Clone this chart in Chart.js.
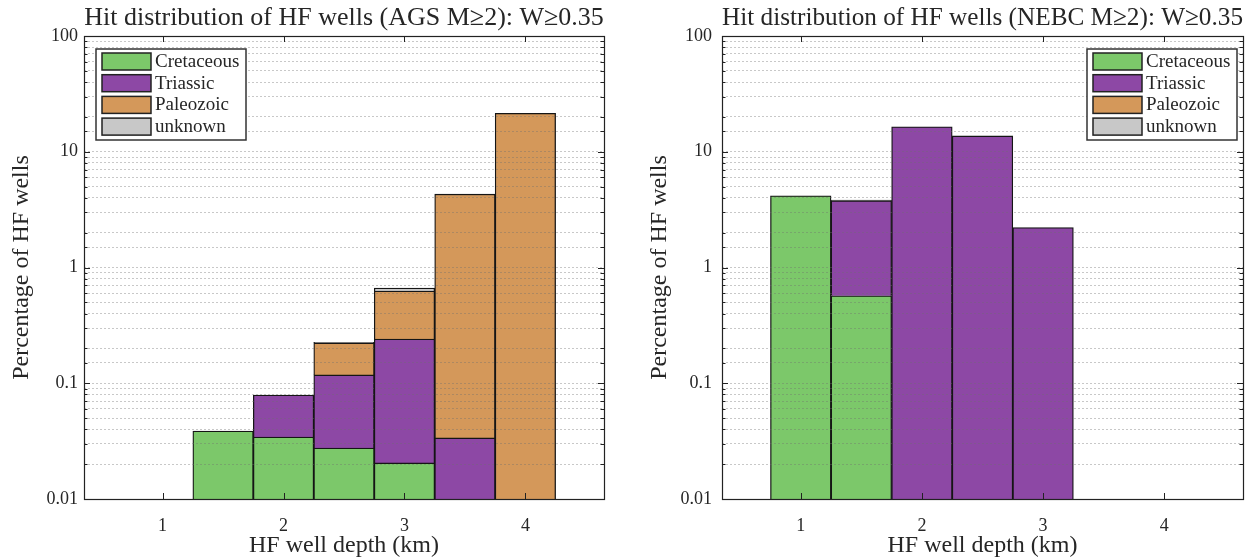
<!DOCTYPE html>
<html><head><meta charset="utf-8">
<script src="https://cdn.jsdelivr.net/npm/chart.js@4.4.1/dist/chart.umd.min.js"></script>
<style>
html,body{margin:0;padding:0;background:#fff;}
#wrap{position:relative;width:1251px;height:558px;overflow:hidden;}
.cell{position:absolute;top:0;height:558px;}
</style></head><body>
<div id="wrap">
<div class="cell" style="left:0;width:625px"><canvas id="c1" width="625" height="558"></canvas></div>
<div class="cell" style="left:625px;width:626px"><canvas id="c2" width="626" height="558"></canvas></div>
</div>
<script>
// ---- data ----
const seriesNames = ['Cretaceous', 'Triassic', 'Paleozoic', 'unknown'];
const seriesColors = ['#7cc86a', '#8d48a5', '#d4985a', '#c8c8c8'];

const depthAGS = [1.5, 2, 2.5, 3, 3.5, 4];
const agsCretaceous = [0.0387, 0.0343, 0.0276, 0.0205, null, null];
const agsTriassic   = [null, 0.0448, 0.0904, 0.2205, 0.0337, null];
const agsPaleozoic  = [null, null, 0.105, 0.386, 4.266, 21.5];
const agsUnknown    = [null, null, 0.003, 0.038, null, null];

const depthNEBC = [1, 1.5, 2, 2.5, 3];
const nebcCretaceous = [4.17, 0.57, null, null, null];
const nebcTriassic   = [null, 3.21, 16.4, 13.7, 2.21];
const nebcPaleozoic  = [null, null, null, null, null];
const nebcUnknown    = [null, 0.04, null, null, null];

const xTicks = [1, 2, 3, 4];
const yTicksMajor = [0.01, 0.1, 1, 10, 100];

const TXT = '#262626';
const FONT = '"Liberation Serif", "Times New Roman", serif';

function majorLabel(v) {
  const m = yTicksMajor.find(t => Math.abs(t - v) / t < 1e-6);
  return m === undefined ? null : String(m);
}

const framePlugin = {
  id: 'frame',
  afterDraw(chart, args, opts) {
    const {ctx, chartArea: a} = chart;
    const x = chart.scales.x, y = chart.scales.y;
    ctx.save();
    ctx.strokeStyle = '#222';
    ctx.lineWidth = 1;
    ctx.beginPath();
    y.ticks.forEach(t => {
      const py = Math.round(y.getPixelForValue(t.value)) + 0.5;
      const len = majorLabel(t.value) ? 6 : 3.5;
      ctx.moveTo(a.left, py); ctx.lineTo(a.left + len, py);
      ctx.moveTo(a.right, py); ctx.lineTo(a.right - len, py);
    });
    x.ticks.forEach(t => {
      const px = Math.round(x.getPixelForValue(t.value)) + 0.5;
      ctx.moveTo(px, a.bottom); ctx.lineTo(px, a.bottom - 6);
      ctx.moveTo(px, a.top); ctx.lineTo(px, a.top + 6);
    });
    ctx.stroke();
    ctx.lineWidth = 1.2;
    ctx.strokeRect(Math.round(a.left) + 0.5, Math.round(a.top) + 0.5,
                   Math.round(a.right - a.left), Math.round(a.bottom - a.top));

    // legend inside the plot
    const lw = 150, lh = 91;
    const lx = opts.side === 'left' ? a.left + 12 : a.right - 6 - lw;
    const ly = a.top + 13;
    ctx.fillStyle = '#fff';
    ctx.fillRect(lx, ly, lw, lh);
    ctx.lineWidth = 1.5;
    ctx.strokeStyle = '#333';
    ctx.strokeRect(lx, ly, lw, lh);
    ctx.font = '19px ' + FONT;
    ctx.textBaseline = 'middle';
    ctx.textAlign = 'left';
    chart.data.datasets.forEach((ds, i) => {
      const ry = ly + 4 + i * 21.7;
      ctx.fillStyle = ds.backgroundColor;
      ctx.fillRect(lx + 6, ry, 49, 17);
      ctx.lineWidth = 1.5;
      ctx.strokeStyle = '#222';
      ctx.strokeRect(lx + 6, ry, 49, 17);
      ctx.fillStyle = TXT;
      ctx.fillText(ds.label, lx + 59, ry + 9);
    });
    ctx.restore();
  }
};

function makeChart(id, depths, series, o) {
  const datasets = series.map((vals, i) => ({
    label: seriesNames[i],
    data: depths.map((d, j) => ({x: d, y: vals[j]})).filter(p => p.y !== null),
    backgroundColor: seriesColors[i],
    borderColor: '#151515',
    borderWidth: 1.3,
    barPercentage: 1,
    categoryPercentage: 1
  }));
  return new Chart(document.getElementById(id), {
    type: 'bar',
    data: {datasets},
    options: {
      responsive: false,
      animation: false,
      layout: {padding: {left: 0, right: o.padRight, top: 0, bottom: 0}},
      plugins: {
        legend: {display: false},
        tooltip: {enabled: false},
        title: {display: true, text: o.title, fullSize: false, color: TXT,
                font: {family: FONT, size: 26, weight: 'normal', lineHeight: 1.15}, padding: {top: 3, bottom: 3.1}},
        frame: {side: o.side}
      },
      scales: {
        x: {
          type: 'linear', min: 0.35, max: 4.65, stacked: true, offset: false,
          afterBuildTicks: s => { s.ticks = xTicks.map(v => ({value: v})); },
          afterFit: s => { s.height = 59; },
          grid: {display: false, offset: false},
          border: {display: false},
          ticks: {autoSkip: false, padding: 8, maxRotation: 0, color: TXT,
                  font: {family: FONT, size: 18},
                  callback: v => String(v)},
          title: {display: true, text: 'HF well depth (km)', color: TXT,
                  font: {family: FONT, size: 24, lineHeight: 1}, padding: 0}
        },
        y: {
          type: 'logarithmic', min: 0.01, max: 100, stacked: true,
          afterFit: s => { s.width = o.yWidth; },
          grid: {color: 'rgba(110,110,110,0.38)', lineWidth: 1, drawTicks: false, z: 1},
          border: {display: false, dash: [2, 2]},
          ticks: {autoSkip: false, padding: o.yPad, color: TXT,
                  font: {family: FONT, size: 18},
                  callback: v => majorLabel(v) || ''},
          title: {display: true, text: 'Percentage of HF wells', color: TXT,
                  font: {family: FONT, size: 24, lineHeight: 1}, padding: {top: o.yTitlePad, bottom: 0}}
        }
      }
    },
    plugins: [framePlugin]
  });
}

function draw() {
  Chart.defaults.font.family = FONT;
  Chart.defaults.color = TXT;
  makeChart('c1', depthAGS, [agsCretaceous, agsTriassic, agsPaleozoic, agsUnknown], {
    title: 'Hit distribution of HF wells (AGS M\u22652): W\u22650.35',
    side: 'left', padRight: 21, yWidth: 84, yPad: 6, yTitlePad: 10
  });
  makeChart('c2', depthNEBC, [nebcCretaceous, nebcTriassic, nebcPaleozoic, nebcUnknown], {
    title: 'Hit distribution of HF wells (NEBC M\u22652): W\u22650.35',
    side: 'right', padRight: 8, yWidth: 97, yPad: 10, yTitlePad: 23
  });
}
if (document.fonts && document.fonts.load) {
  document.fonts.load('25px "Liberation Serif"').then(draw, draw);
} else { draw(); }
</script>
</body></html>
